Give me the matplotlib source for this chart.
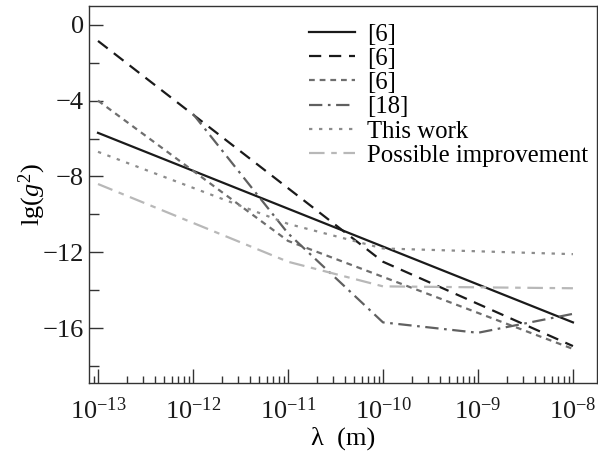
import matplotlib
matplotlib.use("Agg")
import matplotlib.pyplot as plt
import numpy as np

plt.rcParams['font.family'] = ['Liberation Serif', 'DejaVu Serif']
plt.rcParams['mathtext.fontset'] = 'custom'
plt.rcParams['mathtext.rm'] = 'Liberation Serif'
plt.rcParams['mathtext.it'] = 'Liberation Serif:italic'

# Data (wavelength in m, lg(g^2))
x_solid6 = [1e-13, 1e-8]
y_solid6 = [-5.7, -15.7]

x_dash6 = [1e-13, 1e-10, 1e-8]
y_dash6 = [-0.85, -12.5, -16.95]

x_sdash6 = [1e-13, 1e-11, 1e-8]
y_sdash6 = [-4.0, -11.4, -17.1]

x_ref18 = [1e-12, 1e-11, 1e-10, 1e-9, 1e-8]
y_ref18 = [-4.7, -11.0, -15.7, -16.25, -15.25]

x_this = [1e-13, 1e-11, 1e-10, 1e-8]
y_this = [-6.7, -10.5, -11.8, -12.1]

x_poss = [1e-13, 1e-11, 1e-10, 1e-8]
y_poss = [-8.4, -12.5, -13.8, -13.9]

labels = ['[6]', '[6]', '[6]', '[18]', 'This work', 'Possible improvement']

fig = plt.figure(figsize=(5.98, 4.53), dpi=100)
ax = fig.add_axes([0.1488, 0.1545, 0.849, 0.8325])

ax.plot(x_solid6, y_solid6, color='#1a1a1a', lw=1.6, ls='-', label=labels[0])
ax.plot(x_dash6, y_dash6, color='#1a1a1a', lw=1.6, ls=(0, (5.5, 3.5)), label=labels[1])
ax.plot(x_sdash6, y_sdash6, color='#6e6e6e', lw=1.6, ls=(0, (2.6, 2.2)), label=labels[2])
ax.plot(x_ref18, y_ref18, color='#606060', lw=1.6, ls=(0, (6, 2.5, 1.2, 2.5)), label=labels[3])
ax.plot(x_this, y_this, color='#8c8c8c', lw=1.6, ls=(0, (1.5, 3)), label=labels[4])
ax.plot(x_poss, y_poss, color='#b8b8b8', lw=1.6, ls=(0, (7, 3, 2.5, 3)), label=labels[5])

ax.set_xscale('log')
ax.set_xlim(10**-13.095, 10**-7.75)
ax.set_ylim(-18.9, 1.0)
ax.set_yticks([0, -4, -8, -12, -16])
ax.set_yticks([-2, -6, -10, -14, -18], minor=True)
ax.set_yticklabels(['0', '\u22124', '\u22128', '\u221212', '\u221216'])
ax.set_xticks([1e-13, 1e-12, 1e-11, 1e-10, 1e-9, 1e-8])
ax.set_xticklabels([r'$10^{-13}$', r'$10^{-12}$', r'$10^{-11}$', r'$10^{-10}$', r'$10^{-9}$', r'$10^{-8}$'])

ax.tick_params(which='both', direction='in', top=False, right=False, colors='#333333', labelcolor='#1a1a1a', labelsize=19)
ax.tick_params(which='major', length=10, width=1.0)
ax.tick_params(which='minor', length=5, width=1.0)
ax.tick_params(axis='y', which='minor', length=7)
ax.tick_params(axis='x', pad=10)
for s in ax.spines.values():
    s.set_color('#333333')
    s.set_linewidth(1.0)

ax.set_xlabel('\u03bb  (m)', fontsize=19, labelpad=2)
ax.set_ylabel(r'lg($g^2$)', fontsize=19, labelpad=-4)

leg = ax.legend(loc='upper left', bbox_to_anchor=(0.4, 1.0), frameon=False, fontsize=17.8,
                handlelength=1.85, handletextpad=0.5, labelspacing=0.08, borderaxespad=0.3)

fig.savefig('out.png', dpi=100)
